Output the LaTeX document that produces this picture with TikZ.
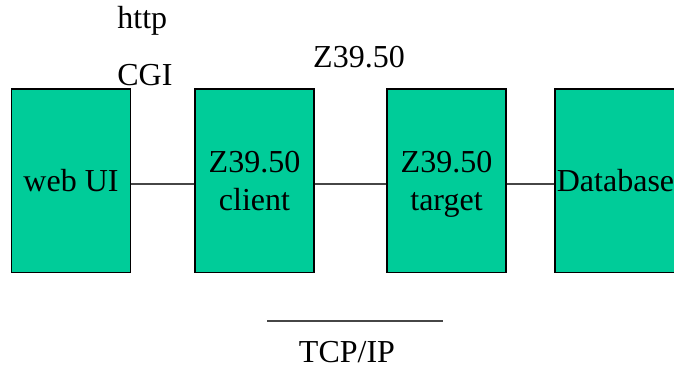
\documentclass[tikz,border=0pt]{standalone}
\usepackage{fontspec}
\setmainfont{Liberation Serif}
\usepackage{tikz}
\usetikzlibrary{calc}
\definecolor{boxgreen}{RGB}{0,204,153}
\definecolor{wiregray}{RGB}{70,70,70}

\begin{document}
\begin{tikzpicture}[x=0.5bp, y=-0.5bp,
    font=\fontsize{16bp}{19bp}\selectfont,
    box/.style={draw=black, line width=0.6bp, fill=boxgreen,
      minimum width=59.5bp, minimum height=91.75bp, inner sep=0pt,
      align=center, text depth=0pt},
    wire/.style={draw=wiregray, line width=0.6bp},
    tag/.style={inner sep=0pt}]
  \useasboundingbox (0,0) rectangle (674,367);

  % Boxes
  \node[box] (web)    at (71,180.75)    {web UI};
  \node[box] (client) at (254.5,180.75) {Z39.50\\client};
  \node[box] (target) at (446.5,180.75) {Z39.50\\target};
  \node[box, minimum width=60.5bp] (db) at (615.5,180.75) {Database};

  % Links between the boxes
  \coordinate (mid) at (0,184);
  \draw[wire] (web.east |- mid) -- (client.west |- mid);
  \draw[wire] (client.east |- mid) -- (target.west |- mid);
  \draw[wire] (target.east |- mid) -- (db.west |- mid);

  % Protocol labels
  \node[tag, anchor=base west] (http) at (117,28.5) {http};
  \node[tag, anchor=base west] (cgi)  at (117,85.5) {CGI};
  \node[tag, anchor=base] (zproto) at (359,67) {Z39.50};

  % Transport
  \coordinate (tcpL) at (267,321);
  \coordinate (tcpR) at (443,321);
  \draw[wire] (tcpL) -- (tcpR);
  \node[tag, anchor=base] (tcp) at (347,362) {TCP/IP};
\end{tikzpicture}
\end{document}
